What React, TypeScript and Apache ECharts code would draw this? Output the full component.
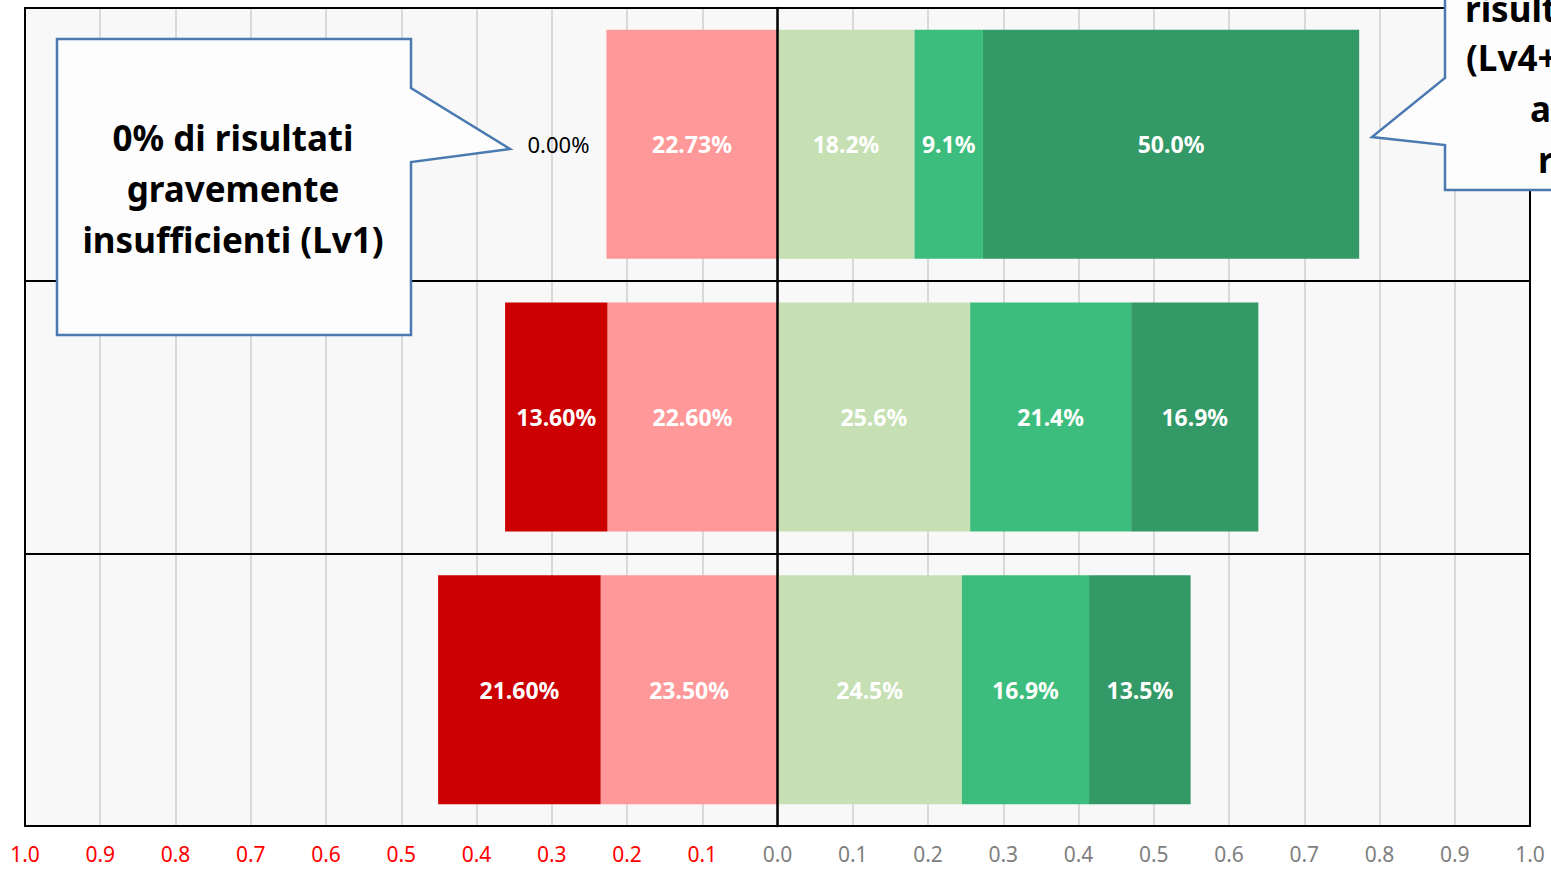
import React, { useEffect, useRef } from "react";
import * as echarts from "echarts";

const categories = ["Classe", "Regione", "Italia"];
const lv2Values = [-0.2273, -0.226, -0.235];
const lv1Values = [0, -0.136, -0.216];
const lv3Values = [0.182, 0.256, 0.245];
const lv4Values = [0.091, 0.214, 0.169];
const lv5Values = [0.5, 0.169, 0.135];
const tickValues = [-1, -0.9, -0.8, -0.7, -0.6, -0.5, -0.4, -0.3, -0.2, -0.1, 0, 0.1, 0.2, 0.3, 0.4, 0.5, 0.6, 0.7, 0.8, 0.9, 1];
const leftCalloutLines = ["0% di risultati", "gravemente", "insufficienti (Lv1)"];
const rightCalloutFragments = ["risult", "(Lv4+", "a", "r"];

const FONT = '"Noto Sans", "Open Sans", sans-serif';

export default function App() {
  const ref = useRef<HTMLDivElement>(null);

  useEffect(() => {
    if (!ref.current) return;
    const chart = echarts.init(ref.current, undefined, { renderer: "svg" });

    const makeSeries = (name: string, values: number[], color: string, decimals: number) => ({
      name,
      type: "bar",
      stack: "total",
      barCategoryGap: "16%",
      itemStyle: { color },
      label: {
        show: true,
        position: "inside",
        color: "#ffffff",
        fontWeight: "bold",
        fontSize: 23,
        fontFamily: FONT,
        formatter: (p: any) => (Math.abs(Number(p.value)) * 100).toFixed(decimals) + "%",
      },
      data: values.map((v) =>
        v === 0
          ? {
              value: v,
              label: { position: "left", distance: 17, color: "#000000", fontWeight: "normal", fontSize: 22 },
            }
          : v
      ),
      z: 2,
    });

    const calloutStyle = { fill: "#fdfdfd", stroke: "#4a7ab0", lineWidth: 2.5 };
    const W = 1551;
    const H = 869;
    const gl = 25, gr = 21, gt = 8, gb = 43;

    chart.setOption({
      animation: false,
      backgroundColor: "#ffffff",
      grid: {
        left: gl,
        right: gr,
        top: gt,
        bottom: gb,
        show: true,
        backgroundColor: "#f8f8f8",
        borderColor: "#000000",
        borderWidth: 2,
        containLabel: false,
      },
      xAxis: {
        type: "value",
        min: tickValues[0],
        max: tickValues[tickValues.length - 1],
        interval: 0.1,
        axisLine: { show: true, lineStyle: { color: "#000000", width: 2 } },
        axisTick: { show: false },
        splitLine: { show: true, lineStyle: { color: "#d9d9d9", width: 2 } },
        axisLabel: {
          margin: 17,
          fontSize: 21,
          fontFamily: FONT,
          color: (v: any) => (Number(v) < 0 ? "#ff0000" : "#7f7f7f"),
          formatter: (v: number) => Math.abs(v).toFixed(1),
        },
      },
      yAxis: {
        type: "category",
        data: categories,
        inverse: true,
        axisLine: { show: true, onZero: true, lineStyle: { color: "#000000", width: 2.5 } },
        axisTick: { show: false },
        axisLabel: { show: false },
        splitLine: { show: true, lineStyle: { color: "#000000", width: 2 } },
        z: 5,
      },
      series: [
        makeSeries("Lv2", lv2Values, "#ff9999", 2),
        makeSeries("Lv1", lv1Values, "#cc0000", 2),
        makeSeries("Lv3", lv3Values, "#c6e0b4", 1),
        makeSeries("Lv4", lv4Values, "#3dbd7d", 1),
        makeSeries("Lv5", lv5Values, "#339966", 1),
      ],
      graphic: [
        {
          type: "rect",
          z: 50,
          silent: true,
          shape: { x: gl, y: gt, width: W - gl - gr, height: H - gt - gb },
          style: { fill: "none", stroke: "#000000", lineWidth: 2 },
        },
        {
          type: "polygon",
          z: 100,
          shape: {
            points: [
              [57, 39],
              [411, 39],
              [411, 88],
              [510, 149],
              [411, 162],
              [411, 335],
              [57, 335],
            ],
          },
          style: calloutStyle,
        },
        {
          type: "text",
          z: 101,
          x: 233,
          y: 188,
          style: {
            text: leftCalloutLines.join("\n"),
            textAlign: "center",
            textVerticalAlign: "middle",
            fontSize: 35,
            fontWeight: "bold",
            fontFamily: FONT,
            lineHeight: 51,
            fill: "#000000",
          },
        },
        {
          type: "polygon",
          z: 100,
          shape: {
            points: [
              [1445, -10],
              [1560, -10],
              [1560, 190],
              [1445, 190],
              [1445, 145],
              [1372, 137],
              [1445, 78],
            ],
          },
          style: calloutStyle,
        },
        ...rightCalloutFragments.map((t, i) => ({
          type: "text",
          z: 101,
          x: [1465, 1466, 1530, 1538][i],
          y: [8, 57, 108, 159][i],
          style: {
            text: t,
            textAlign: "left",
            textVerticalAlign: "middle",
            fontSize: 35,
            fontWeight: "bold",
            fontFamily: FONT,
            fill: "#000000",
          },
        })),
      ],
    });

    return () => chart.dispose();
  }, []);

  return (
    <div
      ref={ref}
      style={{ position: "absolute", left: 0, top: 0, width: 1551, height: 869 }}
    />
  );
}
